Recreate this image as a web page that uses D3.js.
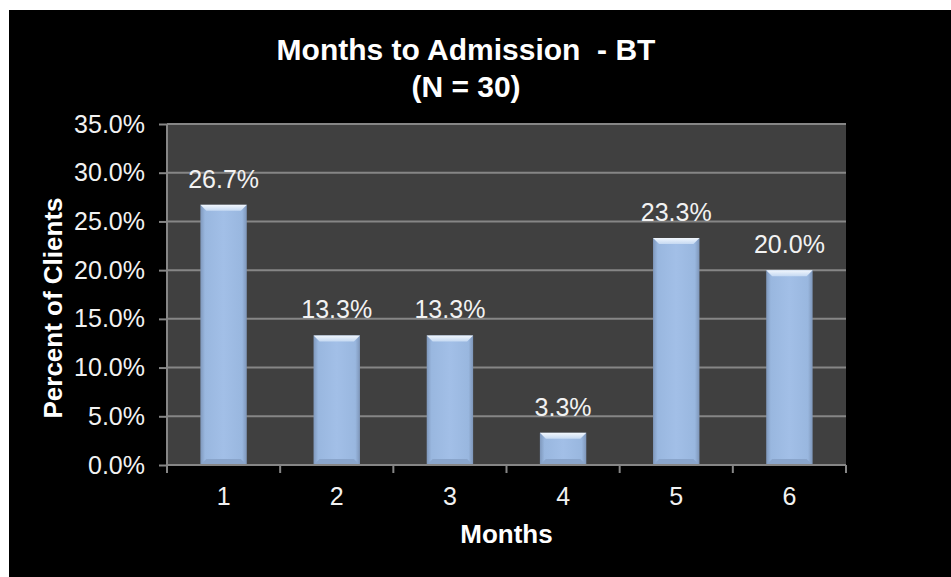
<!DOCTYPE html>
<html>
<head>
<meta charset="utf-8">
<script src="https://cdn.jsdelivr.net/npm/d3@7"></script>
<style>
  html, body { margin: 0; background: #000; overflow: hidden; }
  svg { display: block; font-family: Arial, "Liberation Sans", sans-serif; }
</style>
</head>
<body>
<svg id="chart" width="951" height="577"></svg>
<script>
  // Data
  const months = ["1", "2", "3", "4", "5", "6"];
  const percents = [26.7, 13.3, 13.3, 3.3, 23.3, 20.0];
  const yTicks = [0, 5, 10, 15, 20, 25, 30, 35];

  // Chart dimensions
  const width = 951;
  const height = 577;
  const marginTop = 124;
  const marginRight = 105;
  const marginBottom = 112;
  const marginLeft = 167;

  const svg = d3.select("#chart");

  // black panel, white strip on top and left
  svg.append("rect")
    .attr("x", 0).attr("y", 0)
    .attr("width", width).attr("height", height)
    .attr("fill", "#000");
  svg.append("rect")
    .attr("x", 0).attr("y", 0).attr("width", width).attr("height", 10)
    .attr("fill", "#fff");
  svg.append("rect")
    .attr("x", 0).attr("y", 0).attr("width", 9).attr("height", height)
    .attr("fill", "#fff");

  // Scales
  const x = d3.scaleBand()
    .domain(months)
    .range([marginLeft, width - marginRight])
    .padding(0);

  const y = d3.scaleLinear()
    .domain([0, 35])
    .range([height - marginBottom, marginTop]);

  // plot area
  svg.append("rect")
    .attr("x", marginLeft).attr("y", marginTop)
    .attr("width", width - marginRight - marginLeft)
    .attr("height", height - marginBottom - marginTop)
    .attr("fill", "#404040");

  // gridlines
  svg.append("g")
    .selectAll("line")
    .data(yTicks.filter((d) => d > 0))
    .enter()
    .append("line")
    .attr("x1", marginLeft).attr("x2", width - marginRight)
    .attr("y1", (d) => y(d)).attr("y2", (d) => y(d))
    .attr("stroke", "#868686")
    .attr("stroke-width", 2);

  // gradients for bar bevel
  const defs = svg.append("defs");
  const g1 = defs.append("linearGradient").attr("id", "barGrad")
    .attr("x1", "0").attr("x2", "1").attr("y1", "0").attr("y2", "0");
  g1.append("stop").attr("offset", "0%").attr("stop-color", "#7f98bc");
  g1.append("stop").attr("offset", "10%").attr("stop-color", "#99b7df");
  g1.append("stop").attr("offset", "50%").attr("stop-color", "#a2bfe7");
  g1.append("stop").attr("offset", "90%").attr("stop-color", "#99b7df");
  g1.append("stop").attr("offset", "100%").attr("stop-color", "#7e96b9");

  const g2 = defs.append("linearGradient").attr("id", "topGrad")
    .attr("x1", "0").attr("x2", "0").attr("y1", "0").attr("y2", "1");
  g2.append("stop").attr("offset", "0%").attr("stop-color", "#f2f7fd");
  g2.append("stop").attr("offset", "100%").attr("stop-color", "#c5d9f2");

  const barW = x.bandwidth() * 0.41;
  const bevel = 6;

  const bars = svg.append("g")
    .selectAll("g")
    .data(months.map((m, i) => ({ m: m, v: percents[i] })))
    .enter()
    .append("g");

  bars.append("rect")
    .attr("x", (d) => x(d.m) + (x.bandwidth() - barW) / 2)
    .attr("y", (d) => y(d.v))
    .attr("width", barW)
    .attr("height", (d) => y(0) - y(d.v))
    .attr("fill", "url(#barGrad)");

  // top bevel highlight
  bars.append("path")
    .attr("d", (d) => {
      const x0 = x(d.m) + (x.bandwidth() - barW) / 2;
      const x1 = x0 + barW;
      const t = y(d.v);
      return `M${x0},${t}L${x1},${t}L${x1 - bevel},${t + bevel}L${x0 + bevel},${t + bevel}Z`;
    })
    .attr("fill", "url(#topGrad)");

  // bottom bevel shade
  bars.append("path")
    .attr("d", (d) => {
      const x0 = x(d.m) + (x.bandwidth() - barW) / 2;
      const x1 = x0 + barW;
      const b = y(0);
      return `M${x0},${b}L${x1},${b}L${x1 - bevel},${b - bevel}L${x0 + bevel},${b - bevel}Z`;
    })
    .attr("fill", "#8aa5cb");

  // value labels
  svg.append("g")
    .selectAll("text")
    .data(months.map((m, i) => ({ m: m, v: percents[i] })))
    .enter()
    .append("text")
    .attr("x", (d) => x(d.m) + x.bandwidth() / 2)
    .attr("y", (d) => y(d.v) - 17)
    .attr("text-anchor", "middle")
    .attr("fill", "#f2f2f2")
    .attr("font-size", 25)
    .text((d) => d.v.toFixed(1) + "%");

  // y axis
  const yAxis = svg.append("g")
    .attr("transform", `translate(${marginLeft},0)`)
    .call(d3.axisLeft(y).tickValues(yTicks).tickSize(8).tickPadding(14)
      .tickFormat((d) => d.toFixed(1) + "%"));
  yAxis.select(".domain").attr("stroke", "#868686").attr("stroke-width", 2)
    .attr("d", `M0,${y(35)}V${y(0)}`);
  yAxis.selectAll(".tick line").attr("stroke", "#868686").attr("stroke-width", 2);
  yAxis.selectAll(".tick text").attr("fill", "#f2f2f2").attr("font-size", 25)
    .attr("font-family", "Arial, 'Liberation Sans', sans-serif");

  // x axis
  const xAxis = svg.append("g")
    .attr("transform", `translate(0,${y(0)})`)
    .call(d3.axisBottom(x).tickSize(0).tickPadding(22));
  xAxis.select(".domain").attr("stroke", "#868686").attr("stroke-width", 2)
    .attr("d", `M${marginLeft},0H${width - marginRight}`);
  xAxis.selectAll(".tick text").attr("fill", "#f2f2f2").attr("font-size", 25)
    .attr("font-family", "Arial, 'Liberation Sans', sans-serif");

  // x category boundary ticks
  svg.append("g")
    .selectAll("line")
    .data(d3.range(months.length + 1))
    .enter()
    .append("line")
    .attr("x1", (i) => marginLeft + i * x.step())
    .attr("x2", (i) => marginLeft + i * x.step())
    .attr("y1", y(0)).attr("y2", y(0) + 8)
    .attr("stroke", "#868686")
    .attr("stroke-width", 2);

  // titles
  svg.append("text")
    .attr("x", 466).attr("y", 60)
    .attr("text-anchor", "middle")
    .attr("fill", "#fff").attr("font-size", 30).attr("font-weight", "bold")
    .attr("xml:space", "preserve")
    .text("Months to Admission  - BT");
  svg.append("text")
    .attr("x", 466).attr("y", 97)
    .attr("text-anchor", "middle")
    .attr("fill", "#fff").attr("font-size", 30).attr("font-weight", "bold")
    .text("(N = 30)");

  svg.append("text")
    .attr("x", (marginLeft + width - marginRight) / 2)
    .attr("y", 543)
    .attr("text-anchor", "middle")
    .attr("fill", "#fff").attr("font-size", 26).attr("font-weight", "bold")
    .text("Months");

  svg.append("text")
    .attr("transform", `translate(62,308) rotate(-90)`)
    .attr("text-anchor", "middle")
    .attr("fill", "#fff").attr("font-size", 26).attr("font-weight", "bold")
    .text("Percent of Clients");
</script>
</body>
</html>
